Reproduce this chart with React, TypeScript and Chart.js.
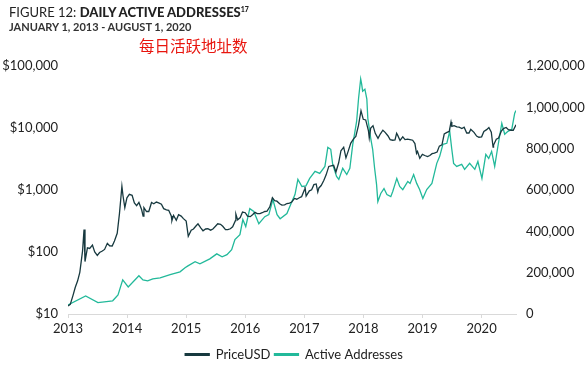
import React, { useEffect, useRef } from "react";
import { Chart, registerables } from "chart.js";

Chart.register(...registerables);

const priceDates = [
  "2013-01-01","2013-01-15","2013-02-01","2013-02-15","2013-03-01","2013-03-15","2013-04-01","2013-04-10","2013-04-16","2013-05-01","2013-05-15","2013-06-01","2013-06-15","2013-07-01","2013-07-15","2013-08-01","2013-08-15","2013-09-01","2013-09-15","2013-10-01","2013-10-15","2013-11-01","2013-11-15","2013-11-30","2013-12-07","2013-12-18","2013-12-31",
  "2014-01-15","2014-02-01","2014-02-15","2014-03-01","2014-03-15","2014-04-01","2014-04-10","2014-04-15","2014-05-01","2014-05-15","2014-06-01","2014-06-15","2014-07-01","2014-07-15","2014-08-01","2014-08-15","2014-09-01","2014-09-15","2014-10-01","2014-10-05","2014-10-15","2014-11-01","2014-11-15","2014-12-01","2014-12-15",
  "2015-01-01","2015-01-14","2015-02-01","2015-02-15","2015-03-01","2015-03-15","2015-04-01","2015-04-15","2015-05-01","2015-05-15","2015-06-01","2015-06-15","2015-07-01","2015-07-15","2015-08-01","2015-08-15","2015-09-01","2015-09-15","2015-10-01","2015-10-15","2015-11-01","2015-11-04","2015-11-15","2015-12-01","2015-12-15",
  "2016-01-01","2016-01-15","2016-02-01","2016-02-15","2016-03-01","2016-03-15","2016-04-01","2016-04-15","2016-05-01","2016-05-15","2016-06-01","2016-06-17","2016-07-01","2016-07-15","2016-08-01","2016-08-15","2016-09-01","2016-09-15","2016-10-01","2016-10-15","2016-11-01","2016-11-15","2016-12-01","2016-12-15",
  "2017-01-01","2017-01-05","2017-01-12","2017-02-01","2017-02-15","2017-03-01","2017-03-15","2017-03-25","2017-04-01","2017-04-15","2017-05-01","2017-05-15","2017-06-01","2017-06-15","2017-07-01","2017-07-15","2017-08-01","2017-08-15","2017-09-01","2017-09-15","2017-10-01","2017-10-15","2017-11-01","2017-11-15","2017-12-01","2017-12-17","2017-12-31",
  "2018-01-15","2018-02-01","2018-02-06","2018-02-15","2018-03-01","2018-03-15","2018-04-01","2018-04-15","2018-05-01","2018-05-15","2018-06-01","2018-06-15","2018-07-01","2018-07-15","2018-07-25","2018-08-01","2018-08-15","2018-09-01","2018-09-15","2018-10-01","2018-10-15","2018-11-01","2018-11-15","2018-11-25","2018-12-01","2018-12-15","2018-12-31",
  "2019-01-15","2019-02-01","2019-02-15","2019-03-01","2019-03-15","2019-04-01","2019-04-15","2019-05-01","2019-05-15","2019-06-01","2019-06-15","2019-06-26","2019-07-01","2019-07-15","2019-08-01","2019-08-15","2019-09-01","2019-09-15","2019-10-01","2019-10-15","2019-10-26","2019-11-01","2019-11-15","2019-12-01","2019-12-15",
  "2020-01-01","2020-01-15","2020-02-01","2020-02-15","2020-03-01","2020-03-12","2020-03-15","2020-04-01","2020-04-15","2020-05-01","2020-05-15","2020-06-01","2020-06-15","2020-07-01","2020-07-15","2020-08-01"
];
const priceValues = [
  13.5,14.3,20,27,34,47,104,230,70,117,114,129,100,88,98,104,110,138,126,125,150,200,420,1150,800,520,750,
  850,820,620,560,630,480,380,520,450,450,630,600,640,620,590,500,480,470,380,320,390,325,400,380,345,
  315,180,225,235,260,285,245,220,235,237,225,235,260,285,280,260,230,230,237,255,320,410,330,360,440,
  430,380,372,400,435,415,417,430,450,455,535,750,675,660,600,570,575,605,615,640,730,710,750,780,
  1000,1130,800,970,1010,1220,1250,930,1080,1180,1420,1740,2400,2450,2500,1950,2750,4300,4900,3300,4400,5700,6700,7300,10900,19000,13800,
  13500,9000,6900,10000,10900,8200,6800,8000,9200,8500,7500,6500,6350,6400,8200,7600,6300,7200,6500,6600,6500,6350,5600,3900,4200,3250,3750,
  3600,3450,3600,3850,3930,4100,5100,5350,8000,8500,8800,12500,10600,10900,10400,10300,9800,10300,8300,8300,9500,9200,8500,7400,7100,
  7200,8800,9400,10200,8550,4900,5300,6600,6900,8800,9800,10200,9400,9200,9200,11300
];

const addrDates = [
  "2013-01-01","2013-04-20","2013-07-05","2013-10-04","2013-11-06","2013-12-05",
  "2014-01-08","2014-03-15","2014-04-09","2014-05-08","2014-06-09","2014-07-24","2014-09-24","2014-11-24","2014-12-25",
  "2015-01-12","2015-02-25","2015-03-27","2015-05-27","2015-07-09","2015-08-11","2015-09-10","2015-10-09","2015-10-29","2015-11-29","2015-12-17",
  "2016-01-04","2016-01-29","2016-02-23","2016-03-25","2016-05-01","2016-05-26","2016-06-20","2016-07-16","2016-08-04","2016-09-15","2016-10-16","2016-11-04","2016-11-22","2016-12-17",
  "2017-01-11","2017-02-03","2017-03-08","2017-04-06","2017-05-08","2017-05-26","2017-06-13","2017-06-25","2017-07-19","2017-08-02","2017-08-26","2017-09-20","2017-10-09","2017-10-27","2017-11-08","2017-11-20","2017-12-02","2017-12-15","2017-12-21","2017-12-27",
  "2018-01-10","2018-01-22","2018-01-28","2018-02-15","2018-02-27","2018-03-11","2018-03-23","2018-03-31","2018-04-18","2018-05-08","2018-05-26","2018-06-19","2018-07-01","2018-07-26","2018-08-13","2018-09-01","2018-10-02","2018-10-16","2018-11-07","2018-11-26","2018-12-14",
  "2019-01-03","2019-01-27","2019-02-28","2019-03-30","2019-04-17","2019-05-07","2019-05-31","2019-06-18","2019-06-30","2019-07-12","2019-07-31","2019-08-31","2019-09-18","2019-10-19","2019-11-20","2019-12-09",
  "2020-01-03","2020-01-27","2020-02-14","2020-03-03","2020-03-22","2020-04-09","2020-05-05","2020-05-23","2020-06-12","2020-07-06","2020-07-24","2020-08-01"
];
const addrValues = [
  44000,87000,55000,64000,92000,165000,
  131000,185000,165000,160000,170000,175000,190000,204000,224000,
  233000,253000,243000,267000,291000,277000,287000,311000,360000,384000,457000,
  423000,510000,496000,437000,471000,481000,554000,481000,461000,486000,544000,578000,651000,617000,
  620000,656000,690000,680000,714000,806000,797000,724000,666000,651000,705000,675000,705000,821000,875000,933000,1044000,1137000,1112000,1078000,
  1088000,1040000,947000,850000,797000,705000,627000,544000,583000,607000,578000,568000,593000,656000,617000,602000,641000,632000,675000,632000,602000,
  559000,602000,632000,729000,763000,821000,826000,884000,802000,729000,714000,724000,700000,729000,700000,738000,
  656000,772000,753000,787000,714000,802000,923000,870000,884000,894000,972000,985000
];

const xTickYears = [2013, 2014, 2015, 2016, 2017, 2018, 2019, 2020];
const priceTicks = [10, 100, 1000, 10000, 100000];
const addrTicks = [0, 200000, 400000, 600000, 800000, 1000000, 1200000];

const DARK = "#17393f";
const TEAL = "#22b99a";
const FONT = "Lato, 'Open Sans', sans-serif";

function toYear(s: string): number {
  const [y, m, d] = s.split("-").map(Number);
  const start = Date.UTC(y, 0, 1);
  const end = Date.UTC(y + 1, 0, 1);
  return y + (Date.UTC(y, m - 1, d) - start) / (end - start);
}

export default function App() {
  const ref = useRef<HTMLCanvasElement | null>(null);
  useEffect(() => {
    if (!ref.current) return;
    const tickFont = { family: FONT, size: 13 };
    const chart = new Chart(ref.current, {
      type: "line",
      data: {
        datasets: [
          {
            label: "PriceUSD",
            data: priceDates.map((d, i) => ({ x: toYear(d), y: priceValues[i] })),
            yAxisID: "yPrice",
            borderColor: DARK,
            backgroundColor: DARK,
            borderWidth: 1.3,
            pointRadius: 0,
            tension: 0,
          },
          {
            label: "Active Addresses",
            data: addrDates.map((d, i) => ({ x: toYear(d), y: addrValues[i] })),
            yAxisID: "yAddr",
            borderColor: TEAL,
            backgroundColor: TEAL,
            borderWidth: 1.3,
            pointRadius: 0,
            tension: 0,
          },
        ],
      },
      options: {
        animation: false,
        responsive: false,
        maintainAspectRatio: false,
        layout: { padding: { top: 66, left: 0, right: 0, bottom: -4 } },
        plugins: {
          legend: {
            position: "bottom",
            labels: {
              boxWidth: 24,
              boxHeight: 1.5,
              color: "#222",
              font: { family: FONT, size: 13 },
              padding: 4,
            },
          },
          tooltip: { enabled: false },
        },
        scales: {
          x: {
            type: "linear",
            min: 2013,
            max: toYear("2020-08-01"),
            afterBuildTicks: (s: any) => {
              s.ticks = xTickYears.map((v) => ({ value: v }));
            },
            afterFit: (s: any) => {
              s.height = 30;
            },
            ticks: {
              callback: (v: any) => String(v),
              color: "#222",
              font: tickFont,
              padding: 3,
              maxRotation: 0,
              autoSkip: false,
            },
            grid: { drawOnChartArea: false, drawTicks: true, tickLength: 4, color: "#d9d9d9" },
            border: { color: "#d9d9d9", width: 1 },
          },
          yPrice: {
            type: "logarithmic",
            position: "left",
            min: 10,
            max: 100000,
            afterBuildTicks: (s: any) => {
              s.ticks = priceTicks.map((v) => ({ value: v }));
            },
            afterFit: (s: any) => {
              s.width = 68;
            },
            ticks: {
              callback: (v: any) => "$" + Number(v).toLocaleString("en-US"),
              color: "#222",
              font: tickFont,
              padding: 2,
            },
            grid: { display: false },
            border: { display: false },
          },
          yAddr: {
            type: "linear",
            position: "right",
            min: 0,
            max: 1200000,
            afterBuildTicks: (s: any) => {
              s.ticks = addrTicks.map((v) => ({ value: v }));
            },
            afterFit: (s: any) => {
              s.width = 72;
            },
            ticks: {
              callback: (v: any) => Number(v).toLocaleString("en-US"),
              color: "#222",
              font: tickFont,
              padding: 2,
            },
            grid: { display: false },
            border: { display: false },
          },
        },
      },
    } as any);
    return () => chart.destroy();
  }, []);

  return (
    <div style={{ position: "absolute", left: 0, top: 0, width: 588, height: 367, background: "#fff" }}>
      <canvas ref={ref} width={588} height={367} style={{ position: "absolute", left: 0, top: 0, display: "block" }} />
      <div
        style={{
          position: "absolute",
          left: 9,
          top: 5,
          fontFamily: FONT,
          fontSize: 13,
          color: "#222",
          whiteSpace: "nowrap",
          lineHeight: "15px",
        }}
      >
        <span style={{ fontWeight: 400 }}>FIGURE 12: </span>
        <span style={{ fontWeight: 900 }}>DAILY ACTIVE ADDRESSES</span>
        <sup style={{ fontSize: 7, fontWeight: 900, verticalAlign: "top", lineHeight: "8px" }}>17</sup>
      </div>
      <div
        style={{
          position: "absolute",
          left: 9,
          top: 20,
          fontFamily: FONT,
          fontSize: 11,
          fontWeight: 700,
          color: "#333",
          whiteSpace: "nowrap",
          lineHeight: "13px",
        }}
      >
        JANUARY 1, 2013 - AUGUST 1, 2020
      </div>
      <div
        style={{
          position: "absolute",
          left: 139,
          top: 36,
          fontFamily: "'Noto Sans CJK SC', sans-serif",
          fontSize: 15.5,
          color: "#e8150e",
          whiteSpace: "nowrap",
          lineHeight: "18px",
        }}
      >
        每日活跃地址数
      </div>
    </div>
  );
}
